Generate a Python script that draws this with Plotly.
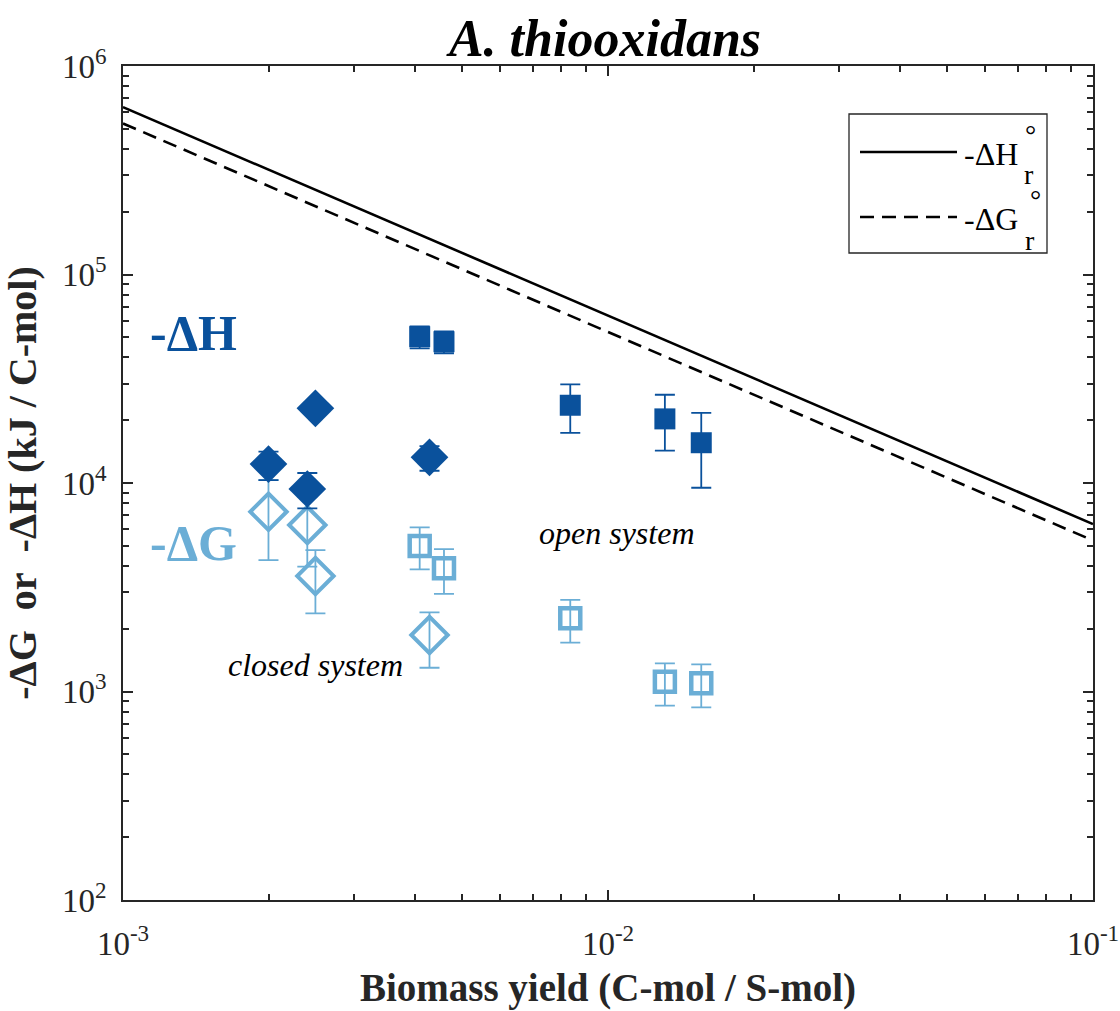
import numpy as np
import plotly.graph_objects as go

# ---------------- data ----------------
# closed system (diamonds)
closed_x = [0.001995, 0.002399, 0.002493, 0.004285]
closed_H = [12330, 9360, 22810, 13280]
closed_H_up = [1800, 1810, 1600, 1750]
closed_H_dn = [2000, 1800, 1600, 1830]
closed_G = [7280, 6290, 3580, 1866]
closed_G_up = [3050, 2300, 1190, 532]
closed_G_dn = [3010, 2320, 1210, 566]

# open system (squares)
open_x = [0.00409, 0.00459, 0.00836, 0.0131, 0.01557]
open_H = [50300, 47600, 23600, 20300, 15600]
open_H_up = [6100, 5700, 6100, 6200, 6100]
open_H_dn = [6100, 5700, 6200, 6000, 6110]
open_G = [4990, 3900, 2244, 1114, 1094]
open_G_up = [1140, 920, 504, 251, 255]
open_G_dn = [1135, 962, 530, 259, 255]

# reference lines: -dH_r and -dG_r (kJ / C-mol) ~ C / yield
line_x = [0.001, 0.1]
line_C_H = 635.0
line_C_G = 530.0

x_ticks = [1e-3, 1e-2, 1e-1]
x_ticktext = ["10<sup>-3</sup>", "10<sup>-2</sup>", "10<sup>-1</sup>"]
y_ticks = [1e2, 1e3, 1e4, 1e5, 1e6]
y_ticktext = ["10<sup>2</sup>", "10<sup>3</sup>", "10<sup>4</sup>", "10<sup>5</sup>", "10<sup>6</sup>"]

DARK = "#0a519c"
LIGHT = "#6baed6"
AX = "#262626"
FONT = "Liberation Serif, Times New Roman, serif"

fig = go.Figure()

lx = np.array(line_x)
fig.add_trace(go.Scatter(x=lx, y=line_C_H / lx, mode="lines",
                         line=dict(color="black", width=2.6), showlegend=False))
fig.add_trace(go.Scatter(x=lx, y=line_C_G / lx, mode="lines",
                         line=dict(color="black", width=2.6, dash="14px,8px"), showlegend=False))

def err(up, dn, color):
    return dict(type="data", symmetric=False, array=up, arrayminus=dn,
                color=color, thickness=1.8, width=10)

# open system -dG (light open squares)
fig.add_trace(go.Scatter(x=open_x, y=open_G, mode="markers",
                         marker=dict(symbol="square-open", size=20, color=LIGHT,
                                     line=dict(width=4.5, color=LIGHT)),
                         error_y=err(open_G_up, open_G_dn, LIGHT), showlegend=False))
# closed system -dG (light open diamonds)
fig.add_trace(go.Scatter(x=closed_x, y=closed_G, mode="markers",
                         marker=dict(symbol="diamond-open", size=28, color=LIGHT,
                                     line=dict(width=4, color=LIGHT)),
                         error_y=err(closed_G_up, closed_G_dn, LIGHT), showlegend=False))
# open system -dH (dark filled squares)
fig.add_trace(go.Scatter(x=open_x, y=open_H, mode="markers",
                         marker=dict(symbol="square", size=21, color=DARK,
                                     line=dict(width=0)),
                         error_y=err(open_H_up, open_H_dn, DARK), showlegend=False))
# closed system -dH (dark filled diamonds)
fig.add_trace(go.Scatter(x=closed_x, y=closed_H, mode="markers",
                         marker=dict(symbol="diamond", size=29, color=DARK,
                                     line=dict(width=0)),
                         error_y=err(closed_H_up, closed_H_dn, DARK), showlegend=False))

minor_x = [k * 10.0 ** e for e in (-3, -2) for k in range(2, 10)]
minor_y = [k * 10.0 ** e for e in (2, 3, 4, 5) for k in range(2, 10)]

axis_common = dict(showline=True, linecolor=AX, linewidth=1.5, mirror="ticks",
                   ticks="inside", ticklen=10, tickwidth=1.5, tickcolor=AX,
                   showgrid=False, zeroline=False, tickmode="array", automargin=False,
                   tickfont=dict(family=FONT, size=33, color=AX))

fig.update_xaxes(type="log", range=[-3, -1], tickvals=x_ticks, ticktext=x_ticktext,
                 ticklabelstandoff=14,
                 minor=dict(tickmode="array", tickvals=minor_x, ticks="inside", ticklen=6,
                            tickwidth=1.5, tickcolor=AX, showgrid=False),
                 title=dict(text="<b>Biomass yield (C-mol / S-mol)</b>",
                            font=dict(family=FONT, size=39, color=AX), standoff=12),
                 **axis_common)
fig.update_yaxes(type="log", range=[2, 6], tickvals=y_ticks, ticktext=y_ticktext,
                 ticklabelstandoff=8,
                 minor=dict(tickmode="array", tickvals=minor_y, ticks="inside", ticklen=6,
                            tickwidth=1.5, tickcolor=AX, showgrid=False),
                 title=dict(text="<b>-ΔG\u00a0\u00a0or\u00a0\u00a0-ΔH (kJ / C-mol)</b>",
                            font=dict(family=FONT, size=40, color=AX), standoff=14),
                 **axis_common)

ann = []
def A(x, y, text, size, color="black", xanchor="center", yanchor="middle"):
    ann.append(dict(x=x, y=y, xref="paper", yref="paper", text=text, showarrow=False,
                    font=dict(family=FONT, size=size, color=color),
                    xanchor=xanchor, yanchor=yanchor))

def px_x(p):
    return (p - 123) / 970.0
def px_y(p):
    return (900 - p) / 834.0

A(px_x(193), px_y(333), "<b>-ΔH</b>", 50, DARK)
A(px_x(193), px_y(543), "<b>-ΔG</b>", 50, LIGHT)
A(px_x(617), px_y(533), "<i>open system</i>", 32)
A(px_x(315), px_y(665), "<i>closed system</i>", 32)

# manual legend
shapes = [
    dict(type="rect", xref="paper", yref="paper", x0=px_x(849), x1=px_x(1047),
         y0=px_y(253), y1=px_y(114), line=dict(color=AX, width=1.3),
         fillcolor="white", layer="above"),
    dict(type="line", xref="paper", yref="paper", x0=px_x(860), x1=px_x(957),
         y0=px_y(152), y1=px_y(152), line=dict(color="black", width=2.6), layer="above"),
    dict(type="line", xref="paper", yref="paper", x0=px_x(860), x1=px_x(957),
         y0=px_y(217), y1=px_y(217), line=dict(color="black", width=2.6, dash="14px,8px"),
         layer="above"),
]
A(px_x(962), px_y(154), "-ΔH", 32, xanchor="left")
A(px_x(1030), px_y(134), "°", 28)
A(px_x(1029), px_y(175), "r", 28)
A(px_x(962), px_y(219), "-ΔG", 32, xanchor="left")
A(px_x(1035), px_y(199), "°", 28)
A(px_x(1030), px_y(240), "r", 28)

fig.update_layout(
    width=1120, height=1011,
    margin=dict(l=123, r=27, t=66, b=111, autoexpand=False),
    paper_bgcolor="white", plot_bgcolor="white",
    title=dict(text="<b><i>A. thiooxidans</i></b>", x=605 / 1120, xanchor="center",
               y=1 - 38 / 1011, yanchor="middle",
               font=dict(family=FONT, size=52, color="black")),
    annotations=ann, shapes=shapes, showlegend=False,
)

fig.write_html("out.html", config={"displayModeBar": False},
               post_script="document.body.style.margin='0';document.body.style.overflow='hidden';")
